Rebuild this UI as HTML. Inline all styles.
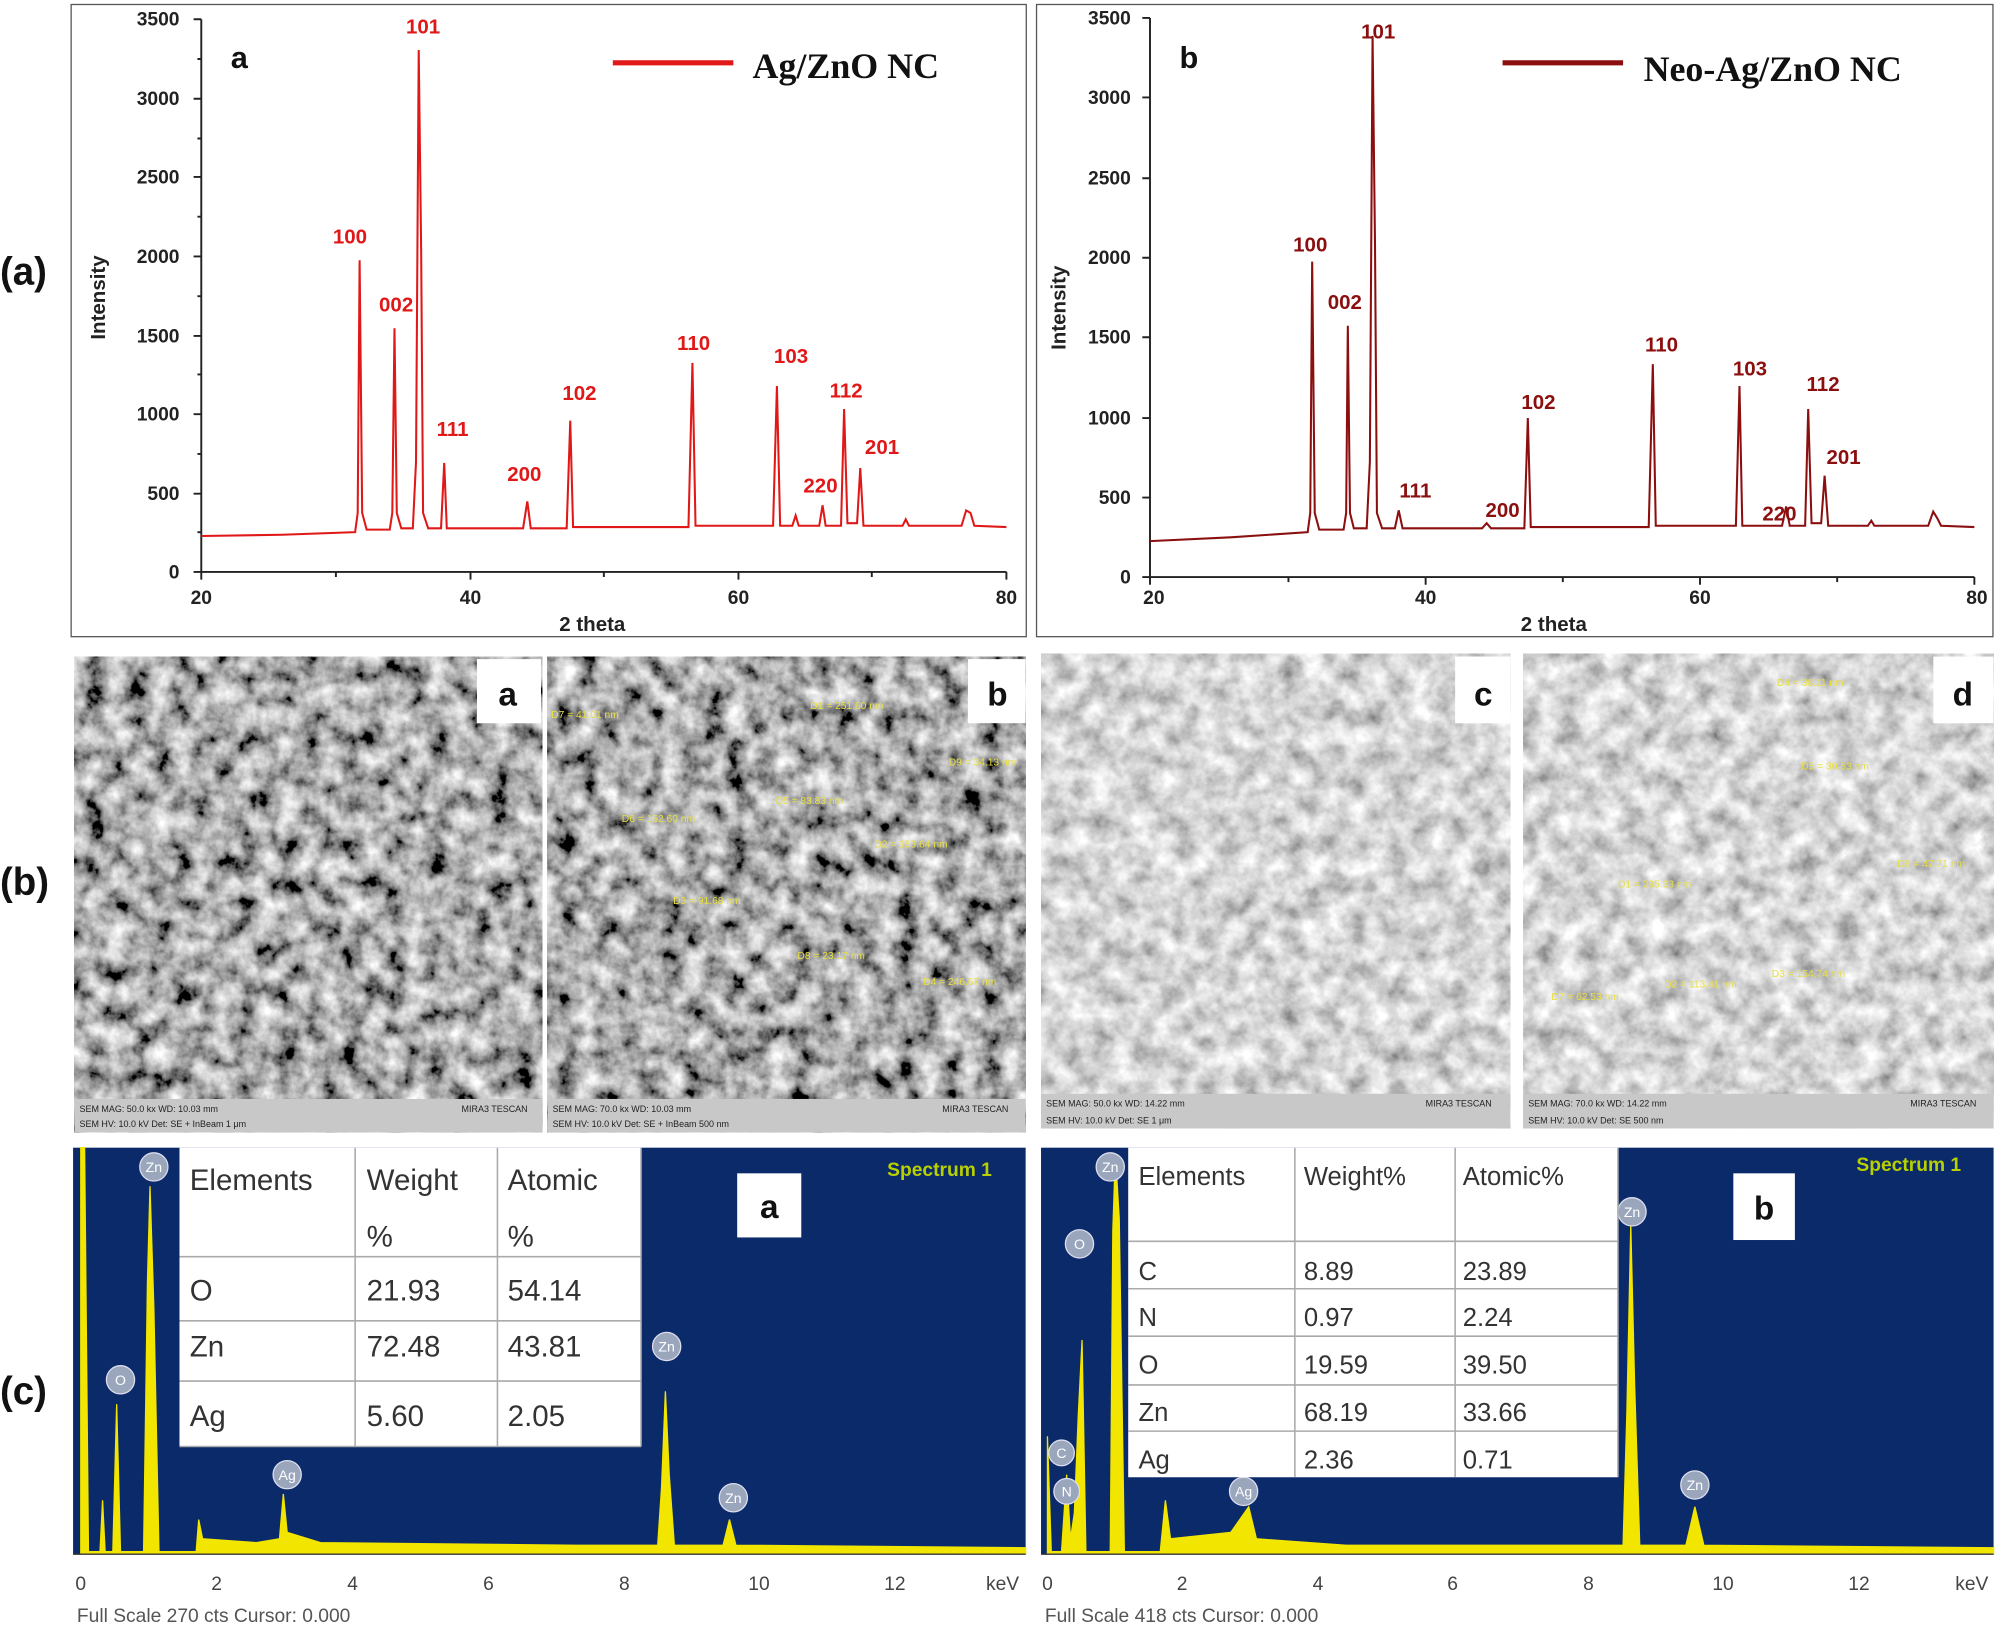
<!DOCTYPE html>
<html><head><meta charset="utf-8"><style>
html,body{margin:0;padding:0;background:#fff;}
svg{display:block;}
</style></head><body>
<svg width="2000" height="1626" viewBox="0 0 1560 1268" preserveAspectRatio="none" xmlns="http://www.w3.org/2000/svg" font-family="Liberation Sans, sans-serif">
<defs>
<filter id="semd" x="0" y="0" width="100%" height="100%">
<feTurbulence type="fractalNoise" baseFrequency="0.06" numOctaves="4" seed="3"/>
<feColorMatrix type="matrix" values="1.6 0 0 0 -0.38  1.6 0 0 0 -0.38  1.6 0 0 0 -0.38  0 0 0 0 1"/>
</filter>
<filter id="seml" x="0" y="0" width="100%" height="100%">
<feTurbulence type="fractalNoise" baseFrequency="0.06" numOctaves="4" seed="7"/>
<feColorMatrix type="matrix" values="1.1 0 0 0 0.12  1.1 0 0 0 0.12  1.1 0 0 0 0.12  0 0 0 0 1"/>
</filter>
</defs>
<rect width="1560" height="1268" fill="#fff"/>

<g font-weight="bold" font-size="30" fill="#111">
<text x="0" y="222">(a)</text>
<text x="0" y="698">(b)</text>
<text x="0" y="1095">(c)</text>
</g>

<!-- XRD panel a -->
<rect x="55.5" y="3.5" width="745" height="493" fill="none" stroke="#555" stroke-width="1"/>
<g stroke="#222" stroke-width="1.5" fill="none">
<path d="M157 15 V446 H785"/>
<path d="M151 15H157M151 77H157M151 138H157M151 200H157M151 262H157M151 323H157M151 385H157M151 446H157"/>
<path d="M154 46H157M154 108H157M154 169H157M154 231H157M154 292H157M154 354H157M154 415H157"/>
<path d="M157 446V452M262 446V450M367 446V452M471 446V450M576 446V452M680 446V450M785 446V452"/>
</g>
<g font-size="15" font-weight="bold" fill="#222" text-anchor="end">
<text x="140" y="20">3500</text><text x="140" y="82">3000</text><text x="140" y="143">2500</text><text x="140" y="205">2000</text><text x="140" y="267">1500</text><text x="140" y="328">1000</text><text x="140" y="390">500</text><text x="140" y="451">0</text>
</g>
<g font-size="15" font-weight="bold" fill="#222" text-anchor="middle">
<text x="157" y="471">20</text><text x="367" y="471">40</text><text x="576" y="471">60</text><text x="785" y="471">80</text>
<text x="462" y="492" font-size="16">2 theta</text>
<text transform="translate(82,232) rotate(-90)" font-size="16">Intensity</text>
</g>
<path fill="none" stroke="#e01818" stroke-width="1.6" d="M157 418 L220 417 L277 415 L279 400 L280.5 203 L282.5 400 L286 413 L304 413 L306 400 L307.7 256 L309.5 400 L313 412 L322 412 L324.5 360 L326.6 39 L328.5 195 L330 400 L334 412 L344 412 L346.5 361 L348.5 412 L408 412 L411.3 391 L414 412 L442 412 L444.8 328 L447 411 L537 411 L540.1 283 L542.5 410 L603 410 L606 301 L608.5 410 L618 410 L620.6 402 L623 410 L639 410 L641.6 394 L644 410 L656 410 L658.4 319 L661 408 L668.5 408 L671 365 L673.5 410 L704 410 L706.5 405 L709 410 L750 410 L753.6 398 L757 400 L760 410 L785 411"/>
<g font-size="16" font-weight="bold" fill="#e01818" text-anchor="middle">
<text x="273" y="190">100</text><text x="309" y="243">002</text><text x="330" y="26">101</text><text x="353" y="340">111</text><text x="409" y="375">200</text><text x="452" y="312">102</text><text x="541" y="273">110</text><text x="617" y="283">103</text><text x="640" y="384">220</text><text x="660" y="310">112</text><text x="688" y="354">201</text>
</g>
<text x="180" y="53" font-size="24" font-weight="bold" fill="#111">a</text>
<line x1="478" y1="49" x2="572" y2="49" stroke="#e01818" stroke-width="4"/>
<text x="587" y="61" style="font-family:'Liberation Serif',serif" font-size="28" font-weight="bold" fill="#111">Ag/ZnO NC</text>

<!-- XRD panel b -->
<rect x="808.5" y="3.5" width="746" height="493" fill="none" stroke="#555" stroke-width="1"/>
<g stroke="#222" stroke-width="1.5" fill="none">
<path d="M897 14 V450 H1540"/>
<path d="M891 14H897M891 76H897M891 139H897M891 201H897M891 263H897M891 326H897M891 388H897M891 450H897"/>
<path d="M897 450V456M1112 450V456M1326 450V456M1540 450V456M1005 450V454M1219 450V454M1433 450V454"/>
</g>
<g font-size="15" font-weight="bold" fill="#222" text-anchor="end">
<text x="882" y="19">3500</text><text x="882" y="81">3000</text><text x="882" y="144">2500</text><text x="882" y="206">2000</text><text x="882" y="268">1500</text><text x="882" y="331">1000</text><text x="882" y="393">500</text><text x="882" y="455">0</text>
</g>
<g font-size="15" font-weight="bold" fill="#222" text-anchor="middle">
<text x="900" y="471">20</text><text x="1112" y="471">40</text><text x="1326" y="471">60</text><text x="1542" y="471">80</text>
<text x="1212" y="492" font-size="16">2 theta</text>
<text transform="translate(831,240) rotate(-90)" font-size="16">Intensity</text>
</g>
<path fill="none" stroke="#8b0f0f" stroke-width="1.6" d="M897 422 L960 419 L1020 415 L1022 400 L1023.5 204 L1025.5 400 L1029 413 L1048 413 L1050 400 L1051.3 254 L1053 400 L1056 412 L1066 412 L1068.5 360 L1070.6 28 L1072.5 190 L1074 400 L1078 412 L1088 412 L1091 398 L1094 412 L1156 412 L1159.6 408 L1163 412 L1189 412 L1191.7 326 L1194 411 L1286 411 L1289.2 284 L1291.5 410 L1354 410 L1356.8 301 L1359 410 L1390 410 L1393.2 395 L1396 410 L1408 410 L1410.4 319 L1413 408 L1420.5 408 L1423.2 371 L1426 410 L1457 410 L1459.6 406 L1462 410 L1504 410 L1507.9 399 L1511 404 L1514 410 L1540 411"/>
<g font-size="16" font-weight="bold" fill="#8b0f0f" text-anchor="middle">
<text x="1022" y="196">100</text><text x="1049" y="241">002</text><text x="1075" y="30">101</text><text x="1104" y="388">111</text><text x="1172" y="403">200</text><text x="1200" y="319">102</text><text x="1296" y="274">110</text><text x="1365" y="293">103</text><text x="1388" y="406">220</text><text x="1422" y="305">112</text><text x="1438" y="362">201</text>
</g>
<text x="920" y="53" font-size="24" font-weight="bold" fill="#111">b</text>
<line x1="1172" y1="49" x2="1266" y2="49" stroke="#8b0f0f" stroke-width="4"/>
<text x="1282" y="63" style="font-family:'Liberation Serif',serif" font-size="28" font-weight="bold" fill="#111">Neo-Ag/ZnO NC</text>

<!-- SEM images -->
<g>
<rect x="58" y="512" width="365" height="371" fill="#666" filter="url(#semd)"/>
<rect x="427" y="512" width="373" height="371" fill="#666" filter="url(#semd)"/>
<rect x="812" y="510" width="366" height="370" fill="#aaa" filter="url(#seml)"/>
<rect x="1188" y="510" width="367" height="370" fill="#aaa" filter="url(#seml)"/>
<rect x="58" y="857" width="365" height="26" fill="#c8c8c8"/>
<rect x="427" y="857" width="373" height="26" fill="#c8c8c8"/>
<rect x="812" y="853" width="366" height="27" fill="#c8c8c8"/>
<rect x="1188" y="853" width="367" height="27" fill="#c8c8c8"/>
<g font-size="7" fill="#222">
<text x="62" y="867">SEM MAG: 50.0 kx   WD: 10.03 mm</text><text x="62" y="879">SEM HV: 10.0 kV   Det: SE + InBeam   1 μm</text><text x="360" y="867">MIRA3 TESCAN</text>
<text x="431" y="867">SEM MAG: 70.0 kx   WD: 10.03 mm</text><text x="431" y="879">SEM HV: 10.0 kV   Det: SE + InBeam  500 nm</text><text x="735" y="867">MIRA3 TESCAN</text>
<text x="816" y="863">SEM MAG: 50.0 kx   WD: 14.22 mm</text><text x="816" y="876">SEM HV: 10.0 kV   Det: SE   1 μm</text><text x="1112" y="863">MIRA3 TESCAN</text>
<text x="1192" y="863">SEM MAG: 70.0 kx   WD: 14.22 mm</text><text x="1192" y="876">SEM HV: 10.0 kV   Det: SE  500 nm</text><text x="1490" y="863">MIRA3 TESCAN</text>
</g>
<g fill="#fff"><rect x="372" y="514" width="50" height="50"/><rect x="755" y="514" width="45" height="50"/><rect x="1135" y="512" width="43" height="52"/><rect x="1508" y="512" width="47" height="52"/></g>
<g font-size="26" font-weight="bold" fill="#111" text-anchor="middle">
<text x="396" y="550">a</text><text x="778" y="550">b</text><text x="1157" y="550">c</text><text x="1531" y="550">d</text>
</g>
<g font-size="8" fill="#e8e040">
<text x="632" y="553">D1 = 251.60 nm</text><text x="740" y="597">D9 = 34.13 nm</text><text x="682" y="661">D2 = 153.64 nm</text><text x="605" y="627">D5 = 83.83 nm</text><text x="485" y="641">D6 = 152.60 nm</text><text x="525" y="705">D3 = 91.68 nm</text><text x="622" y="748">D8 = 23.17 nm</text><text x="720" y="768">D4 = 246.67 nm</text><text x="430" y="560">D7 = 41.01 nm</text>
<text x="1386" y="535">D4 = 38.11 nm</text><text x="1405" y="600">D5 = 30.53 nm</text><text x="1480" y="676">D6 = 47.71 nm</text><text x="1262" y="692">D1 = 295.33 nm</text><text x="1210" y="780">D7 = 62.53 nm</text><text x="1298" y="770">D2 = 113.41 nm</text><text x="1382" y="762">D3 = 154.74 nm</text>
</g>
</g>

<!-- EDS a -->
<rect x="57" y="895" width="743" height="317" fill="#0b2a6a"/>
<path fill="#f2e600" stroke="#f2e600" stroke-width="1" d="M63 1210 L63 895 L66 895 L69 1210 L78 1210 L80 1170 L82 1210 L88 1210 L91 1095 L94 1210 L112 1210 L115 1000 L117 925 L120 1020 L124 1210 L153 1210 L155 1185 L158 1200 L200 1203 L218 1200 L221 1165 L224 1195 L250 1203 L450 1205 L513 1205 L516 1160 L519 1085 L522 1150 L526 1205 L564 1205 L569 1185 L574 1205 L800 1207 L800 1212 L63 1212Z"/>
<rect x="57" y="1212" width="743" height="60" fill="#fff"/>
<line x1="57" y1="1212" x2="800" y2="1212" stroke="#333" stroke-width="1"/>
<g font-size="15" fill="#444" text-anchor="middle">
<text x="63" y="1240">0</text><text x="169" y="1240">2</text><text x="275" y="1240">4</text><text x="381" y="1240">6</text><text x="487" y="1240">8</text><text x="592" y="1240">10</text><text x="698" y="1240">12</text><text x="782" y="1240">keV</text>
</g>
<text x="60" y="1265" font-size="15" fill="#555">Full Scale 270 cts Cursor: 0.000</text>
<text x="692" y="917" font-size="15" font-weight="bold" fill="#b8d000">Spectrum 1</text>
<g fill="#9aa6bc" stroke="#dde" stroke-width="1">
<circle cx="120" cy="910" r="11"/><circle cx="94" cy="1076" r="11"/><circle cx="224" cy="1150" r="11"/><circle cx="520" cy="1050" r="11"/><circle cx="572" cy="1168" r="11"/>
</g>
<g font-size="11" fill="#fff" text-anchor="middle"><text x="120" y="914">Zn</text><text x="94" y="1080">O</text><text x="224" y="1154">Ag</text><text x="520" y="1054">Zn</text><text x="572" y="1172">Zn</text></g>
<rect x="140" y="895" width="360" height="233" fill="#fff"/>
<g stroke="#aaa" stroke-width="1.2" fill="none">
<path d="M140 980H500M140 1030H500M140 1077H500M140 1128H500M277 895V1128M388 895V1128M500 895V1128"/>
</g>
<g font-size="23" fill="#333">
<text x="148" y="928">Elements</text><text x="286" y="928">Weight</text><text x="396" y="928">Atomic</text>
<text x="286" y="972">%</text><text x="396" y="972">%</text>
<text x="148" y="1014">O</text><text x="286" y="1014">21.93</text><text x="396" y="1014">54.14</text>
<text x="148" y="1058">Zn</text><text x="286" y="1058">72.48</text><text x="396" y="1058">43.81</text>
<text x="148" y="1112">Ag</text><text x="286" y="1112">5.60</text><text x="396" y="1112">2.05</text>
</g>
<rect x="575" y="915" width="50" height="50" fill="#fff"/>
<text x="600" y="950" font-size="26" font-weight="bold" fill="#111" text-anchor="middle">a</text>

<!-- EDS b -->
<rect x="812" y="895" width="743" height="317" fill="#0b2a6a"/>
<path fill="#f2e600" stroke="#f2e600" stroke-width="1" d="M817 1210 L817 1120 L820 1210 L828 1210 L832 1150 L835 1200 L838 1180 L841 1105 L844 1045 L847 1210 L866 1210 L868 960 L870 900 L873 950 L877 1210 L905 1210 L909 1170 L913 1200 L960 1195 L974 1175 L980 1200 L1050 1205 L1266 1205 L1269 1100 L1272 955 L1275 1080 L1279 1205 L1315 1205 L1322 1175 L1329 1205 L1555 1207 L1555 1212 L817 1212Z"/>
<rect x="812" y="1212" width="743" height="60" fill="#fff"/>
<line x1="812" y1="1212" x2="1555" y2="1212" stroke="#333" stroke-width="1"/>
<g font-size="15" fill="#444" text-anchor="middle">
<text x="817" y="1240">0</text><text x="922" y="1240">2</text><text x="1028" y="1240">4</text><text x="1133" y="1240">6</text><text x="1239" y="1240">8</text><text x="1344" y="1240">10</text><text x="1450" y="1240">12</text><text x="1538" y="1240">keV</text>
</g>
<text x="815" y="1265" font-size="15" fill="#555">Full Scale 418 cts Cursor: 0.000</text>
<text x="1448" y="913" font-size="15" font-weight="bold" fill="#b8d000">Spectrum 1</text>
<g fill="#9aa6bc" stroke="#dde" stroke-width="1">
<circle cx="866" cy="910" r="11"/><circle cx="842" cy="970" r="11"/><circle cx="828" cy="1133" r="10"/><circle cx="832" cy="1163" r="10"/><circle cx="970" cy="1163" r="11"/><circle cx="1273" cy="945" r="11"/><circle cx="1322" cy="1158" r="11"/>
</g>
<g font-size="11" fill="#fff" text-anchor="middle"><text x="866" y="914">Zn</text><text x="842" y="974">O</text><text x="828" y="1137">C</text><text x="832" y="1167">N</text><text x="970" y="1167">Ag</text><text x="1273" y="949">Zn</text><text x="1322" y="1162">Zn</text></g>
<rect x="880" y="895" width="382" height="257" fill="#fff"/>
<g stroke="#aaa" stroke-width="1.2" fill="none">
<path d="M880 968H1262M880 1005H1262M880 1042H1262M880 1080H1262M880 1116H1262M1010 895V1152M1135 895V1152M1262 895V1152"/>
</g>
<g font-size="20" fill="#333">
<text x="888" y="924">Elements</text><text x="1017" y="924">Weight%</text><text x="1141" y="924">Atomic%</text>
<text x="888" y="998">C</text><text x="1017" y="998">8.89</text><text x="1141" y="998">23.89</text>
<text x="888" y="1034">N</text><text x="1017" y="1034">0.97</text><text x="1141" y="1034">2.24</text>
<text x="888" y="1071">O</text><text x="1017" y="1071">19.59</text><text x="1141" y="1071">39.50</text>
<text x="888" y="1108">Zn</text><text x="1017" y="1108">68.19</text><text x="1141" y="1108">33.66</text>
<text x="888" y="1145">Ag</text><text x="1017" y="1145">2.36</text><text x="1141" y="1145">0.71</text>
</g>
<rect x="1352" y="915" width="48" height="52" fill="#fff"/>
<text x="1376" y="951" font-size="26" font-weight="bold" fill="#111" text-anchor="middle">b</text>
</svg>
</body></html>
